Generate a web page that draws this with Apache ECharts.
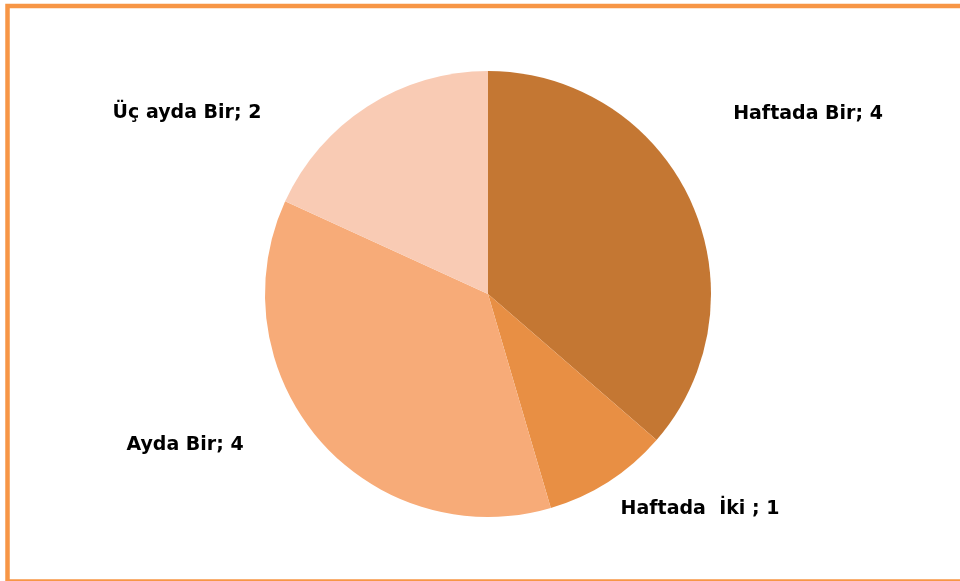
<!DOCTYPE html>
<html>
<head>
<meta charset="utf-8">
<script src="https://cdn.jsdelivr.net/npm/echarts@6/dist/echarts.min.js"></script>
<style>
  html, body { margin: 0; padding: 0; background: #ffffff; }
  #chart { width: 960px; height: 581px; }
</style>
</head>
<body>
<div id="chart"></div>
<script>
// Frequency categories and their counts
var categories = ['Haftada Bir', 'Haftada  İki ', 'Ayda Bir', 'Üç ayda Bir'];
var counts = [4, 1, 4, 2];
var sliceColors = ['#C47733', '#E88F44', '#F7AB78', '#F9CBB4'];

// Label anchor points (centre of each label text)
var labelAnchors = [[808, 114], [700, 509], [185, 445], [187, 113]];

var chart = echarts.init(document.getElementById('chart'), null, { renderer: 'canvas' });

var pieData = categories.map(function (name, i) {
  return { name: name, value: counts[i], itemStyle: { color: sliceColors[i] } };
});

chart.setOption({
  animation: false,
  backgroundColor: '#ffffff',
  graphic: [{
    type: 'rect',
    shape: { x: 7.5, y: 6, width: 1000, height: 575.5 },
    style: { fill: 'none', stroke: '#F79646', lineWidth: 4.5 },
    silent: true
  }],
  series: [{
    type: 'pie',
    center: [488, 294],
    radius: 223,
    startAngle: 90,
    clockwise: true,
    data: pieData,
    itemStyle: { borderWidth: 0 },
    label: {
      show: true,
      position: 'outside',
      formatter: '{b}; {c}',
      fontFamily: '"DejaVu Sans", sans-serif',
      fontWeight: 'bold',
      fontSize: 19,
      color: '#000000'
    },
    labelLine: { show: false },
    labelLayout: function (params) {
      var p = labelAnchors[params.dataIndex];
      return { x: p[0], y: p[1], align: 'center', verticalAlign: 'middle' };
    }
  }]
});
</script>
</body>
</html>
